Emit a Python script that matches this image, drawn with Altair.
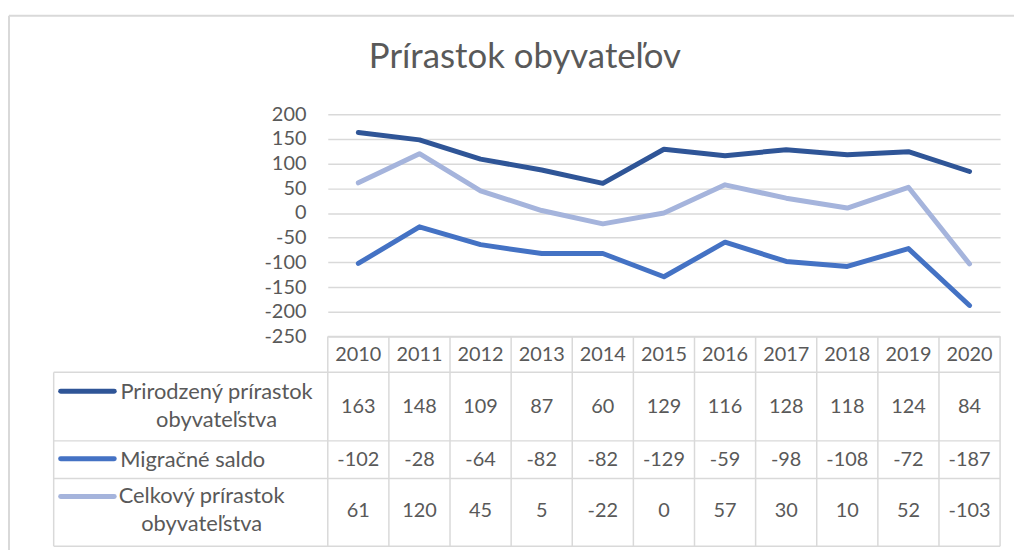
import altair as alt
import pandas as pd

# ---------------- data ----------------
years = [2010, 2011, 2012, 2013, 2014, 2015, 2016, 2017, 2018, 2019, 2020]
natural = [163, 148, 109, 87, 60, 129, 116, 128, 118, 124, 84]
migration = [-102, -28, -64, -82, -82, -129, -59, -98, -108, -72, -187]
total = [61, 120, 45, 5, -22, 0, 57, 30, 10, 52, -103]
series_names = ["Prirodzený prírastok obyvateľstva", "Migračné saldo", "Celkový prírastok obyvateľstva"]
series_labels = ["Prirodzený prírastok\nobyvateľstva", "Migračné saldo", "Celkový prírastok\nobyvateľstva"]
series_values = [natural, migration, total]
title_text = "Prírastok obyvateľov"
y_ticks = [200, 150, 100, 50, 0, -50, -100, -150, -200, -250]

# ---------------- styling / layout ----------------
colors = ["#2F5597", "#4472C4", "#A5B4DC"]
FONT = "Lato"
TXT = "#595959"
GRID = "#D9D9D9"
W = 677          # plot width (year columns)
H = 435          # plot + table height
LINE_H = 224     # line panel height (-250 .. 200)
col_w = W / len(years)

def px_x(px):    # pixel offset from plot left -> year units
    return years[0] - 0.5 + px / col_w

xs = alt.Scale(domain=[years[0] - 0.5, years[-1] + 0.5], nice=False, zero=False)
ts = alt.Scale(domain=[0, H], range=[0, H], nice=False, zero=False)  # table rows

# table row boundaries (pixel offsets from plot top)
hdr_top, hdr_bot = LINE_H, 260
row_bounds = [(260, 329), (329, 367), (367, 435)]
row_num_y = [295, 348, 400]
row_lbl_y = [280, 348, 385]
row_lbl_x = [-112, -136, -127]
row_sw_y = [279, 347, 385]
left_px = -276

# line data
line_rows = []
for name, vals in zip(series_names, series_values):
    for yr, v in zip(years, vals):
        line_rows.append({"year": yr, "value": v, "series": name})
line_df = pd.DataFrame(line_rows)

color_scale = alt.Scale(domain=series_names, range=colors)

lines = alt.Chart(line_df).mark_line(strokeWidth=5, strokeCap="round", strokeJoin="round").encode(
    x=alt.X("year:Q", scale=xs, axis=None),
    y=alt.Y("value:Q",
            scale=alt.Scale(domain=[-250, 200], range=[LINE_H, 0], nice=False, zero=False),
            axis=alt.Axis(values=y_ticks, grid=True, gridColor=GRID, gridWidth=1.5,
                          domain=False, ticks=False, labelFontSize=20, labelFont=FONT,
                          labelColor=TXT, labelPadding=22, title=None,
                          labelExpr="'' + datum.value")),
    color=alt.Color("series:N", scale=color_scale, legend=None),
)

# table grid segments
seg = []
seg.append({"x": px_x(0), "x2": px_x(W), "y": hdr_top, "y2": hdr_top})
for top, bot in row_bounds:
    seg.append({"x": px_x(left_px), "x2": px_x(W), "y": top, "y2": top})
seg.append({"x": px_x(left_px), "x2": px_x(W), "y": row_bounds[-1][1], "y2": row_bounds[-1][1]})
seg.append({"x": px_x(left_px), "x2": px_x(left_px), "y": row_bounds[0][0], "y2": row_bounds[-1][1]})
for i in range(len(years) + 1):
    xv = years[0] - 0.5 + i
    seg.append({"x": xv, "x2": xv, "y": hdr_top, "y2": row_bounds[-1][1]})
seg_df = pd.DataFrame(seg)

grid = alt.Chart(seg_df).mark_rule(color=GRID, strokeWidth=1.5).encode(
    x=alt.X("x:Q", scale=xs, axis=None), x2="x2:Q",
    y=alt.Y("y:Q", scale=ts, axis=None), y2="y2:Q",
)

# header years
hdr_df = pd.DataFrame({"year": years, "yy": [(hdr_top + hdr_bot) / 2 + 1] * len(years),
                       "label": [str(y) for y in years]})
hdr = alt.Chart(hdr_df).mark_text(font=FONT, fontSize=20, color=TXT, baseline="middle").encode(
    x=alt.X("year:Q", scale=xs, axis=None),
    y=alt.Y("yy:Q", scale=ts, axis=None),
    text="label:N",
)

# cell values
cell_rows = []
for i, vals in enumerate(series_values):
    for yr, v in zip(years, vals):
        cell_rows.append({"year": yr, "yy": row_num_y[i], "label": str(v)})
cell_df = pd.DataFrame(cell_rows)
cells = alt.Chart(cell_df).mark_text(font=FONT, fontSize=20, color=TXT, baseline="middle").encode(
    x=alt.X("year:Q", scale=xs, axis=None),
    y=alt.Y("yy:Q", scale=ts, axis=None),
    text="label:N",
)

# row labels
lbl_df = pd.DataFrame({"xx": [px_x(v) for v in row_lbl_x], "yy": row_lbl_y, "label": series_labels})
labels = alt.Chart(lbl_df).mark_text(font=FONT, fontSize=22, color=TXT, baseline="middle",
                                     align="center", lineBreak="\n", lineHeight=28).encode(
    x=alt.X("xx:Q", scale=xs, axis=None),
    y=alt.Y("yy:Q", scale=ts, axis=None),
    text="label:N",
)

# legend swatches
sw_df = pd.DataFrame({"x": [px_x(-269)] * 3, "x2": [px_x(-215)] * 3, "yy": row_sw_y, "series": series_names})
swatches = alt.Chart(sw_df).mark_rule(strokeWidth=5, strokeCap="round").encode(
    x=alt.X("x:Q", scale=xs, axis=None), x2="x2:Q",
    y=alt.Y("yy:Q", scale=ts, axis=None),
    color=alt.Color("series:N", scale=color_scale, legend=None),
)

# chart-area border (top and left edges)
border_top = alt.Chart(pd.DataFrame({"a": [0]})).mark_rule(color=GRID, strokeWidth=2).encode(
    x=alt.value(-321), x2=alt.value(700), y=alt.value(-99))
border_left = alt.Chart(pd.DataFrame({"a": [0]})).mark_rule(color=GRID, strokeWidth=2).encode(
    x=alt.value(-321), y=alt.value(-99), y2=alt.value(460))

chart = alt.layer(grid, lines, hdr, cells, labels, swatches, border_top, border_left).resolve_scale(
    y="independent"
).properties(
    width=W, height=H,
    title=alt.TitleParams(title_text, font=FONT, fontSize=35, fontWeight="normal", color=TXT,
                          anchor="middle", dx=-140, offset=-89, baseline="alphabetic"),
    autosize=alt.AutoSizeParams(type="none"),
    padding={"left": 322, "top": 105, "right": 14, "bottom": 2},
).configure_view(stroke=None)

chart.save("out.html", embed_options={"renderer": "svg", "actions": False})
